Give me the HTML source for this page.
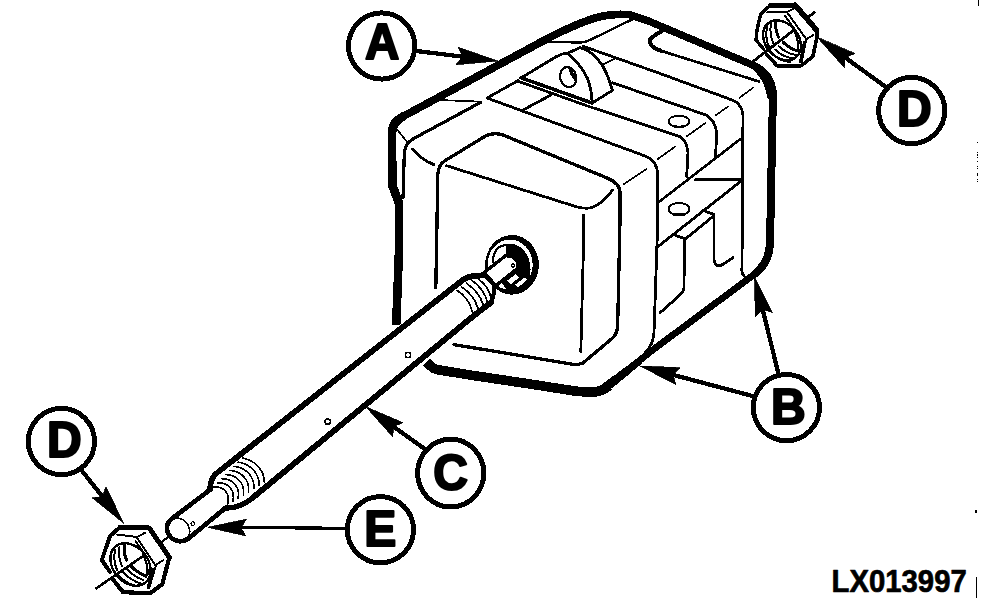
<!DOCTYPE html>
<html>
<head>
<meta charset="utf-8">
<title>LX013997</title>
<style>
html,body{margin:0;padding:0;background:#fff;}
body{width:996px;height:598px;overflow:hidden;}
svg{display:block;}
.k{fill:none;stroke:#000;stroke-linecap:round;stroke-linejoin:round;}
.t{font-family:"Liberation Sans",sans-serif;font-weight:bold;fill:#000;}
</style>
</head>
<body>
<svg width="996" height="598" viewBox="0 0 996 598" shape-rendering="crispEdges">
<rect width="996" height="598" fill="#fff"/>

<!-- ===== BODY: heavy outline ===== -->
<g id="outline" class="k" stroke-width="6.5">
<path d="M396.2 325 L399 250 L399 201" stroke-width="8.6" stroke-linecap="butt"/>
<path d="M399 203 L392.2 185 L392 132 Q392.5 122 403 116.5" stroke-width="8.8"/>
<path d="M403 116.5 L550 37.2 Q580 22 600 16.5" stroke-width="7.8"/>
<path d="M596 17.6 Q614 13 630 14.8 L650 21.5" stroke-width="7.6"/>
<path d="M646 20 L740 59.7 L756 66.5 Q772 75 773 94" stroke-width="7.4"/>
<path d="M757 69 Q768 79 770.5 96" stroke-width="7"/>
<path d="M773 92 L770 244 Q769 262 755.5 273.5" stroke-width="8"/>
<path d="M755.5 273.5 L650 352 L618 378" stroke-width="6.8"/>
<path d="M609 386 Q601 392.3 590 392.3 L576 391.2 L530 384 L470 375 L437 369.6 Q433 368.5 430.5 366 L426.3 361.8" stroke-width="9.6" stroke-linecap="butt"/>
<path d="M604 388.5 L616 379.5" stroke-width="9"/>
<path d="M612 382.8 L626 371.5" stroke-width="8.2"/>
<path d="M622 374.8 L638 362" stroke-width="7.5"/>
</g>

<!-- ===== BODY: thin lines ===== -->
<g id="body" class="k" stroke-width="2.8">
<!-- top surface -->
<path d="M546 41.5 L580 42.6 Q586 42 590 40 L633 19" stroke-width="2.4"/>
<path d="M660 50.5 L759 81.5" stroke-width="2.7"/><path d="M661.6 31.3 Q647 39 650 43 Q652 48 661 50.8" stroke-width="4"/>
<path d="M438 100 L480.6 101.6" stroke-width="1.7"/><path d="M480.6 102.4 L413.5 138.6 Q405 143.5 404.3 153 L403 198" stroke-width="3.2"/>
<path d="M397.6 130 L407.6 142.6" stroke-width="1.7"/>
<path d="M412.7 149 Q420 159 434 164.7"/>
<path d="M487 98 L518.3 80.5"/>
<path d="M518.3 81.3 L587.2 105.9 L680.4 136.7 Q686.7 141 688 152.7 L686.7 176.5"/>
<path d="M523 110 L551 95"/>
<path d="M521.1 77.8 L556.2 56.7 Q562 53.5 568 53 L580.1 47.6 Q592 50.5 601.2 63.7 Q607 72 612.5 90.4 L592.1 103"/>
<path d="M521.1 77.8 L592.1 103" stroke-width="3.6"/>
<path d="M567.5 53.4 Q579 62 587.2 77.8 Q592 90 592.1 103"/>
<ellipse cx="568.2" cy="77.1" rx="8" ry="10.2" transform="rotate(-14 568.2 77.1)" stroke-width="2.2"/>
<path d="M570 68.5 Q571.5 75 576 80" stroke-width="3.2"/>
<path d="M583 46.2 L660 73.5 L733 100.3 Q742 104.5 743 115 L742 267 Q741 273 744.4 276.4"/>
<path d="M612.6 82.8 L706 115 Q715 120 716.8 132.6 L715.5 156.4"/>
<path d="M603.8 64 L614 59" stroke-width="1.7"/>
<path d="M739.4 97.8 L753 87.8" stroke-width="1.7"/>
<path d="M715.5 115.4 L728 106.6" stroke-width="1.7"/>
<path d="M686.5 136.5 L705.5 123" stroke-width="1.7"/>
<path d="M657.8 159 L675.4 146.4" stroke-width="1.7"/>
<path d="M624 184 L646.5 169" stroke-width="1.7"/>
<ellipse cx="679" cy="121.3" rx="10.5" ry="5.7" stroke-width="1.9"/><path d="M674 126.3 Q679 127.5 684 126.3" stroke-width="2.6"/>
<ellipse cx="679" cy="209" rx="10.5" ry="6" stroke-width="1.9"/><path d="M673 214 Q679 215.6 685 214" stroke-width="3"/>
<path d="M487 98 L646 156.3 Q657 161 657.8 174 L657.8 220 L654 333 Q653 345 645 353"/>
<!-- front face -->
<path d="M435.8 287.7 L436.5 250 L437.8 175 Q438 165 445.3 160.5 L485.5 136 Q493 132 503 135 L607.6 178.2 Q620 183.5 620 193 L620 220 L617.6 328 Q616 335 612.6 338 L583 363 Q577 365.5 570.8 364 L454 344.6" stroke-width="3.3"/>
<path d="M446.6 165.7 L575.8 206.6 Q584 209 590.9 207.8 Q604 203 612.6 190"/>
<path d="M583.6 215.4 L583.4 250 L580.8 352"/>
<!-- right side -->
<path d="M657.8 202.8 L740.6 138.9" stroke-width="2.6"/>
<path d="M695.5 179.8 L740.6 179.8"/>
<path d="M740.6 181.5 L657.8 246.7"/>
<path d="M703 210.4 L714 214.5 L714 260 Q715 267 721 265.5 L733 257.6"/>
<path d="M675.4 235.4 L685.4 239 L714 215.6"/>
<path d="M684.5 239 L684 287.7 Q683.5 292 680 295 L660 312.8"/>
</g>

<!-- ===== SHAFT ===== -->
<g id="shaft" class="k" stroke-width="4.6">
<!-- hole ring -->
<ellipse cx="512" cy="264.8" rx="26.9" ry="29.8" fill="#000" stroke="none"/>
<ellipse cx="510.1" cy="264.8" rx="22.6" ry="25.2" fill="#fff" stroke="none"/>
<path d="M493 262 Q493 248 503 245.5 Q520 242 527.5 258 Q532 272 526 284 Q521 291 511 291" stroke-width="2.2"/>
<path d="M506.3 245.5 Q521 243 527.5 258 Q532 272 526 284 Q522 290 514 291 L507 289 L503 283 L517.5 268 L517.5 262.8 L512.3 257.6 L506.3 256.1 Z" fill="#000" stroke-width="1.5"/>
<path d="M507.3 280.6 L515.4 274.4 L519.4 277.2 L510.4 284.4 Z M515.2 284.6 L523.4 278.4 Q526.5 277.5 526.6 279.6 Q523 284.5 518 287 Z" fill="#fff" stroke="none"/>
<path d="M484.2 272.4 L506 255.4 L512.5 257 L518 262.6 L518 268 L495.8 285.8 Z" fill="#fff" stroke-width="3.4"/>
<circle cx="512.9" cy="265.5" r="1.7" stroke-width="1.2"/>
<!-- main shaft -->
<path d="M230 462.5 L464 279 L484.3 275 L494.2 285 L495.5 292 L491 302.5 L474 315.5 L252 498.5 Z" fill="#fff" stroke="none"/>
<path d="M230 462.7 L463.8 279.2 Q467 277 472 276.2 L484.3 275.2" stroke-width="5.9"/>
<path d="M491 302.5 L474 315.5 L252 498.3" stroke-width="5.9"/>
<path d="M484.3 275 L493.8 285 Q495.6 291.5 491 302.5" stroke-width="4"/>
<g stroke-width="1.7">
<path d="M457.3 290.5 Q469 298 472.4 312"/>
<path d="M461.6 286.9 Q474 295 477.8 308"/>
<path d="M466.4 283.3 Q479 291.5 483.3 305"/>
<path d="M471.8 280.3 Q484 289 487.5 302"/>
<path d="M477.8 278.5 Q489.5 287 491.1 299"/>
</g>
<circle cx="408" cy="355" r="2.7" stroke-width="1.6"/>
<circle cx="327.8" cy="421.7" r="2.7" stroke-width="1.6"/>
<!-- lower thread -->
<path d="M233 460.4 L216 473.7 Q211 478 209.8 489" stroke-width="5.6"/>
<g stroke-width="1.6">
<path d="M242.2 458.0 C256.0 460.5 264.5 471.0 264.3 482.2"/>
<path d="M238.1 462.1 C251.5 464.1 259.6 474.3 259.1 485.5"/>
<path d="M234.0 466.3 C247.0 467.8 254.8 477.6 253.8 488.7"/>
<path d="M229.9 470.4 C242.5 471.4 249.9 480.9 248.6 492.0"/>
<path d="M225.8 474.6 C238.0 475.1 245.1 484.1 243.3 495.2"/>
<path d="M221.7 478.7 C233.5 478.7 240.2 487.4 238.1 498.5"/>
<path d="M217.6 482.9 C229.0 482.4 235.4 490.7 232.8 501.7"/>
<path d="M213.5 487.0 C224.5 486.0 230.5 494.0 227.6 505.0"/>
</g>
<path d="M254 496.8 Q240 508.5 226.5 508" stroke-width="5.2"/>
<!-- small end -->
<path d="M210.8 489.2 L171.2 519.2 Q165.8 524 167.2 530 Q168.6 537 174.5 540 Q181.5 543 188.2 538.8 L226 507.4" stroke-width="4.7" fill="#fff"/>
<path d="M173 518.5 Q182 516.5 187.5 524 Q192 532 187.6 538" stroke-width="1.6"/>
<circle cx="192.7" cy="523.6" r="1.8" stroke-width="1.2"/>
</g>

<!-- ===== NUTS ===== -->
<g id="nut1" class="k">
<path d="M753 61.5 L794 30 M808 17 L814.5 12.5" stroke-width="2.8"/>
<path d="M770.1 5.5 L795.2 5.2" stroke-width="4.6"/><path d="M795.2 5.2 L816.6 30.1" stroke-width="5.6"/>
<path d="M816.8 30.1 L816.8 38 L812.8 56.6 L801.2 65.7 L777.1 65.7 L767.1 55.1" stroke-width="3.6"/>
<path d="M763.6 49.1 L756 40 L757 30 L760.6 14 L770.1 5.5" stroke-width="3.4"/>
<path d="M767.1 12.5 L787.2 12 L794 8.5 M787.2 12.5 L806.3 39.2 L813.5 35 M806.3 39.2 L801.8 62 M785 16 L796 31 M804 42 L800 62" stroke-width="2"/>
<ellipse cx="782" cy="40.3" rx="22" ry="16.5" transform="rotate(50.6 782 40.3)" stroke-width="2.4"/>
<path d="M767 27 Q765 38 769 47 M771 23.5 Q769 34 773.5 43.5" stroke-width="2"/>
<path d="M776 22 Q775 30 778.5 37" stroke-width="3"/>
<path d="M783 42 Q789 48.5 798 51" stroke-width="3"/>
<path d="M778.5 46 Q786 53.5 796 55 M775 49.5 Q782.5 57 793.5 58.5 M771 53 Q779 61 790 62" stroke-width="2"/>
<path d="M794 30 Q799 41 798 50" stroke-width="2.2"/>
</g>
<g id="nut2" class="k">
<path d="M96.5 588.2 L143.2 556" stroke-width="2.6"/><path d="M160.3 543 L169.3 536" stroke-width="2.2"/>
<path d="M120.1 527 L149.2 528 L169.3 557.2" stroke-width="5"/>
<path d="M169.3 557.5 L162.3 584.2 L150.2 593.2 L123.1 592.2 L112 578.2" stroke-width="4.2"/>
<path d="M110 572 L101.8 560 L110 536 L120.1 527" stroke-width="4"/>
<path d="M117 534.5 L137.2 537 L144.7 533 M137.2 538 L155.3 565.2 L163.3 560.2 M155.8 566 L149.2 588 M135.5 541 L146 556 M153 569 L147.5 588" stroke-width="2"/>
<ellipse cx="130.5" cy="564.5" rx="23.5" ry="17.5" transform="rotate(50.6 130.5 564.5)" stroke-width="2.4"/>
<path d="M115 550 Q113 560 117 570 M119.5 547 Q118 557 122 566.5" stroke-width="2"/>
<path d="M124.5 545.5 Q123.5 553 126.5 560" stroke-width="3.2"/>
<path d="M131 566 Q137 572.5 146 576" stroke-width="3.2"/>
<path d="M127 569 Q134 577 143.5 580 M123 572 Q130.5 580.5 141 583.5 M118.5 575.5 Q127 584.5 138 586.5" stroke-width="2"/>
<path d="M143 554 Q148.5 565 147.5 575" stroke-width="2.2"/>
</g>

<!-- ===== CALLOUTS ===== -->
<g id="callouts" class="k" stroke-width="5">
<circle cx="381.6" cy="46" r="33.1" fill="#fff"/>
<circle cx="911.7" cy="110.5" r="33.1" fill="#fff"/>
<circle cx="786.4" cy="407.6" r="33.1" fill="#fff"/>
<ellipse cx="450.7" cy="473.1" rx="33.1" ry="33.9" fill="#fff"/>
<circle cx="380.4" cy="529.7" r="33.1" fill="#fff"/>
<circle cx="61.4" cy="441.5" r="33.1" fill="#fff"/>
</g>
<g id="leaders" class="k" stroke-linecap="butt">
<path d="M415.0 50.8 L462.6 56.7" stroke-width="4.3"/>
<path d="M886.5 87.5 L845.1 57.5" stroke-width="4.3"/>
<path d="M778.8 375.0 L762.6 309.4" stroke-width="4.3"/>
<path d="M754.0 396.4 L672.9 374.8" stroke-width="4.3"/>
<path d="M425.0 449.2 L393.4 426.6" stroke-width="4.3"/>
<path d="M347.0 528.3 L241.2 527.5" stroke-width="3.2"/>
<path d="M80.5 469.0 L102.5 496.6" stroke-width="4.3"/>
</g>
<g id="heads" fill="#000" stroke="#000" stroke-width="0.8" stroke-linejoin="miter">
<path d="M497.8 61.0 L456.0 64.7 L462.6 56.7 L458.2 47.3 Z"/>
<path d="M817.5 37.6 L854.6 53.7 L845.1 57.5 L844.4 67.8 Z"/>
<path d="M754.4 276.4 L772.4 312.6 L762.6 309.4 L755.4 316.8 Z"/>
<path d="M640.0 366.0 L680.4 367.7 L672.9 374.8 L675.9 384.6 Z"/>
<path d="M365.8 406.8 L403.0 422.7 L393.4 426.6 L392.8 436.9 Z"/>
<path d="M207.7 527.3 L246.3 519.3 L241.2 527.5 L246.1 535.9 Z"/>
<path d="M123.7 523.2 L92.2 497.8 L102.5 496.6 L105.9 486.9 Z"/>
</g>
<g class="t" font-size="50.6" text-anchor="middle" stroke="#000" stroke-width="2.2" stroke-linejoin="round">
<text id="tA" transform="translate(382.1 58.8) scale(0.94 1)">A</text>
<text id="tD1" transform="translate(914.3 125.6) scale(0.95 1)">D</text>
<text id="tB" transform="translate(788.3 424) scale(0.95 1)">B</text>
<text id="tC" transform="translate(450.7 489.9) scale(0.95 1)">C</text>
<text id="tE" transform="translate(380.4 545.6) scale(0.95 1)">E</text>
<text id="tD2" transform="translate(64.4 457.2) scale(0.95 1)">D</text>
</g>
<text class="t" id="tL" font-size="30.6" stroke="#000" stroke-width="0.7" stroke-linejoin="round" transform="translate(831.6 592.1) scale(0.957 1)">LX013997</text>

<!-- scan artifacts -->
<g fill="#000">
<rect x="975.7" y="576.5" width="1.5" height="21.5"/>
<rect x="977.8" y="0" width="1.3" height="6"/>
<rect x="976.9" y="142.0" width="1.1" height="1.1"/><rect x="976.9" y="151.5" width="1.1" height="1.1"/><rect x="976.9" y="153.5" width="1.1" height="1.1"/><rect x="976.9" y="154.5" width="1.1" height="1.1"/><rect x="976.9" y="157.0" width="1.1" height="1.1"/><rect x="976.9" y="161.0" width="1.1" height="1.1"/><rect x="976.9" y="166.0" width="1.1" height="1.1"/><rect x="976.9" y="168.0" width="1.1" height="1.1"/><rect x="976.9" y="173.0" width="1.1" height="1.1"/><rect x="976.9" y="174.0" width="1.1" height="1.1"/><rect x="976.9" y="175.0" width="1.1" height="1.1"/><rect x="976.9" y="179.0" width="1.1" height="1.1"/><rect x="976.9" y="181.0" width="1.1" height="1.1"/>
<rect x="974.8" y="509.5" width="2.4" height="3.4"/>
</g>
</svg>
</body>
</html>
